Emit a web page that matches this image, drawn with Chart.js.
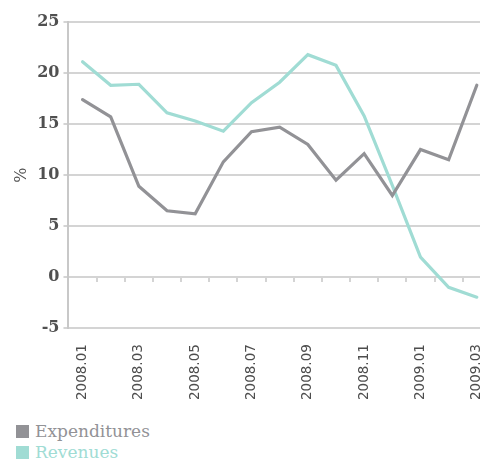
<!DOCTYPE html>
<html>
<head>
<meta charset="utf-8">
<script src="https://cdn.jsdelivr.net/npm/chart.js@4"></script>
<style>
  html, body { margin: 0; padding: 0; background: #fff; overflow: hidden; }
  #wrap { position: relative; width: 480px; height: 463px; overflow: hidden; }
  #legend { position: absolute; left: 16px; top: 421px; font-family: "DejaVu Serif", serif; font-size: 17px; line-height: 21px; }
  #legend div { display: flex; align-items: center; }
  #legend span.box { display: inline-block; width: 13px; height: 13px; margin-right: 6px; }
</style>
</head>
<body>
<div id="wrap">
  <canvas id="chart" width="509" height="416"></canvas>
  <div id="legend"></div>
</div>
<script>
const months = ["2008.01", "2008.02", "2008.03", "2008.04", "2008.05", "2008.06", "2008.07", "2008.08",
    "2008.09", "2008.10", "2008.11", "2008.12", "2009.01", "2009.02", "2009.03"];
const expenditures = [17.4, 15.7, 8.9, 6.5, 6.2, 11.3, 14.25, 14.7, 13.0, 9.5, 12.1, 8.0, 12.5, 11.5, 18.8];
const revenues = [21.1, 18.8, 18.9, 16.1, 15.3, 14.3, 17.1, 19.1, 21.8, 20.75, 15.8, 9.0, 1.96, -1.0, -1.96];

const seriesNames = ["Expenditures", "Revenues"];
const seriesColors = ["#929296", "#a0dcd4"];

const ctx = document.getElementById("chart").getContext("2d");
const chart = new Chart(ctx, {
    type: "line",
    data: {
        labels: months,
        datasets: [
            { label: seriesNames[0], data: expenditures, borderColor: seriesColors[0], backgroundColor: seriesColors[0] },
            { label: seriesNames[1], data: revenues, borderColor: seriesColors[1], backgroundColor: seriesColors[1] }
        ]
    },
    options: {
        responsive: false,
        animation: false,
        layout: { padding: { top: 22, left: 6, right: 0, bottom: 0 } },
        elements: {
            line: { borderWidth: 3.2, tension: 0, borderCapStyle: "round", borderJoinStyle: "miter" },
            point: { radius: 0 }
        },
        plugins: {
            legend: { display: false },
            tooltip: { enabled: false }
        },
        scales: {
            x: {
                type: "category",
                offset: true,
                grid: { display: false, drawTicks: false },
                border: { display: false },
                ticks: {
                    autoSkip: false,
                    minRotation: 90,
                    maxRotation: 90,
                    padding: 16,
                    color: "#4d4d4d",
                    font: { family: "DejaVu Sans", size: 13.5 },
                    callback: function (value, index) {
                        return index % 2 === 0 ? this.getLabelForValue(value) : "";
                    }
                }
            },
            x2: {
                type: "category",
                position: { y: 0 },
                offset: true,
                grid: { offset: true, drawOnChartArea: false, tickLength: 5, color: "#d4d4d4", lineWidth: 2 },
                border: { display: false },
                ticks: { display: false, autoSkip: false }
            },
            y: {
                min: -5,
                max: 25,
                ticks: {
                    stepSize: 5,
                    padding: 4,
                    color: "#505050",
                    font: { family: "DejaVu Serif", size: 16, weight: "bold" }
                },
                grid: { color: "#d4d4d4", lineWidth: 2, tickLength: 5 },
                border: { color: "#c8c8c8", width: 2 },
                title: {
                    display: true,
                    text: "%",
                    color: "#505050",
                    padding: { top: 6, bottom: 2 },
                    font: { family: "DejaVu Serif", size: 16 }
                }
            }
        }
    }
});

// legend under the chart, one item per line
const legendBox = document.getElementById("legend");
chart.data.datasets.forEach((ds) => {
    const row = document.createElement("div");
    row.style.color = ds.borderColor;
    const box = document.createElement("span");
    box.className = "box";
    box.style.background = ds.borderColor;
    row.appendChild(box);
    row.appendChild(document.createTextNode(ds.label));
    legendBox.appendChild(row);
});
</script>
</body>
</html>
